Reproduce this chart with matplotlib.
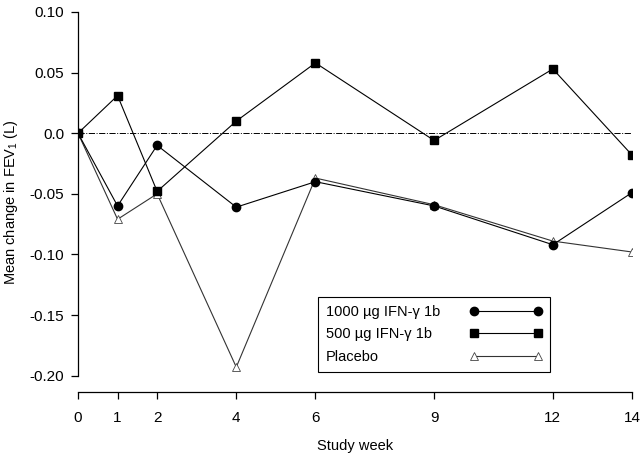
import matplotlib
matplotlib.use("Agg")
import matplotlib.pyplot as plt

# Data (mean change in FEV1, litres)
WEEKS = [0, 1, 2, 4, 6, 9, 12, 14]
DOSE_1000 = [0.0, -0.060, -0.010, -0.061, -0.040, -0.060, -0.092, -0.049]
DOSE_500 = [0.0, 0.031, -0.048, 0.010, 0.058, -0.006, 0.053, -0.018]
PLACEBO = [0.0, -0.071, -0.050, -0.193, -0.037, -0.059, -0.089, -0.098]

SERIES_LABELS = ["1000 \u00b5g IFN-\u03b3 1b", "500 \u00b5g IFN-\u03b3 1b", "Placebo"]
Y_TICKS = [-0.20, -0.15, -0.10, -0.05, 0.0, 0.05, 0.10]
Y_TICK_LABELS = ["-0.20", "-0.15", "-0.10", "-0.05", "0.0", "0.05", "0.10"]

plt.rcParams["font.family"] = ["Liberation Sans", "DejaVu Sans"]
plt.rcParams["mathtext.fontset"] = "custom"
plt.rcParams["mathtext.rm"] = "Liberation Sans"

fig = plt.figure(figsize=(6.4, 4.61), dpi=100)
ax = fig.add_axes([78 / 640, 1 - 392 / 461, 554 / 640, 380 / 461])

ax.plot([WEEKS[0], WEEKS[-1]], [0, 0], color="black", linestyle="-.",
        linewidth=0.7, zorder=1)

ax.plot(WEEKS, PLACEBO, color="#333333", linewidth=0.8, marker="^",
        markersize=5.5, markerfacecolor="white", markeredgecolor="#444444",
        markeredgewidth=0.6, label=SERIES_LABELS[2], zorder=2)
ax.plot(WEEKS, DOSE_500, color="black", linewidth=0.8, marker="s",
        markersize=5.5, label=SERIES_LABELS[1], zorder=3)
ax.plot(WEEKS, DOSE_1000, color="black", linewidth=0.8, marker="o",
        markersize=6, label=SERIES_LABELS[0], zorder=4)

ax.set_xlim(0, 14)
ax.set_ylim(-0.2135, 0.10)
ax.set_xticks(WEEKS)
ax.set_yticks(Y_TICKS)
ax.set_yticklabels(Y_TICK_LABELS)

for side in ("top", "right"):
    ax.spines[side].set_visible(False)
ax.spines["left"].set_bounds(-0.20, 0.10)
for side in ("left", "bottom"):
    ax.spines[side].set_linewidth(0.9)
ax.tick_params(direction="out", length=5, width=0.9, labelsize=11, pad=5)
ax.tick_params(axis="x", pad=9)

ax.set_xlabel("Study week", fontsize=10.5, labelpad=10)
ax.set_ylabel("Mean change in FEV$_1$ (L)", fontsize=10.5, labelpad=7)

h, l = ax.get_legend_handles_labels()
order = [2, 1, 0]
leg = ax.legend([h[i] for i in order], [l[i] for i in order],
                loc="upper left", bbox_to_anchor=(0.42, 0.27),
                markerfirst=False, numpoints=2, handlelength=5.0,
                handletextpad=2.0, fontsize=10.5, fancybox=False,
                framealpha=1, edgecolor="black", borderpad=0.55,
                labelspacing=0.6)
leg.get_frame().set_linewidth(0.8)

# keep labels left-aligned while the line samples stay right-aligned
fig.canvas.draw()
r = fig.canvas.get_renderer()
widths = [t.get_window_extent(r).width for t in leg.get_texts()]
column = leg._legend_handle_box.get_children()[0]
for item, w in zip(column.get_children(), widths):
    item.sep += (max(widths) - w) * 72 / fig.dpi

fig.savefig("out.png", dpi=100)
